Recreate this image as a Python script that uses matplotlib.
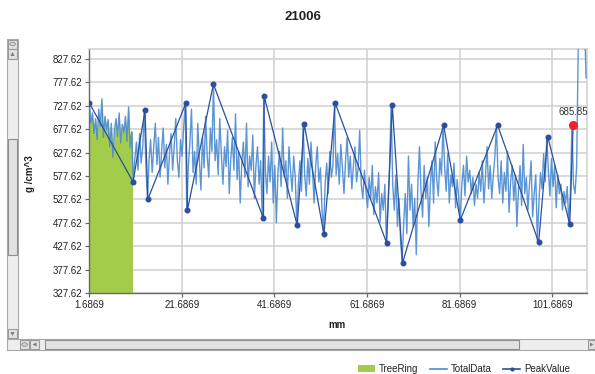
import numpy as np
import matplotlib
matplotlib.use("Agg")
import matplotlib.pyplot as plt
from matplotlib.patches import Rectangle, Circle, Polygon
from matplotlib.lines import Line2D
from matplotlib.patches import Patch

plt.rcParams['font.family'] = ['Liberation Sans', 'DejaVu Sans']

# ---------------- data ----------------
title = "21006"
x_label = "mm"
y_label = "g /cm^3"
x_ticks = [1.6869, 21.6869, 41.6869, 61.6869, 81.6869, 101.6869]
y_ticks = [327.62, 377.62, 427.62, 477.62, 527.62, 577.62, 627.62, 677.62, 727.62, 777.62, 827.62]
x_limits = (1.6869, 109.2)
y_limits = (327.62, 847.62)

total_start = 1.6869
total_step = 0.3396
total_values = [
    733, 690, 712, 668, 700, 655, 720, 684, 742, 660, 705, 676, 698, 640, 690, 618, 676, 700, 662, 712,
    648, 688, 670, 705, 652, 725, 638, 672,
    565, 615, 650, 590, 668, 605, 640, 718, 598, 528, 612, 655, 585, 640, 690, 602, 660, 575, 630, 680,
    595, 645, 560, 625, 668, 590, 640, 700, 610, 575, 655, 620, 680, 733,
    505, 600, 650, 720, 585, 630, 560, 690, 612, 548, 660, 595, 705, 620, 575, 680, 630, 773, 610, 655,
    580, 700, 625, 560, 640, 598, 675, 540, 615, 660, 590, 710, 570, 630, 520, 605, 650, 575, 690, 555,
    620, 590, 665, 530, 600, 640, 560, 610, 490, 745,
    590, 540, 620, 565, 650, 520, 600, 478, 585, 630, 555, 680, 575, 610, 530, 640, 590, 545, 620, 575,
    475, 560, 610, 545, 690, 580, 535, 615, 560, 650, 590, 520, 600, 640, 565, 595, 510, 455, 560, 605,
    540, 630, 575, 600, 733,
    580, 625, 560, 645, 595, 540, 610, 660, 575, 620, 550, 600, 640, 565, 595, 675, 560, 530, 590, 545,
    510, 575, 530, 600, 495, 555, 520, 585, 480, 540, 505, 560, 438, 520, 600, 729,
    560, 505, 580, 470, 530, 440, 395, 480, 540, 455, 620, 505, 560, 470, 530, 410, 560, 640, 545, 490,
    600, 530, 575, 470, 560, 610, 520, 650, 570, 535, 615, 580, 685,
    600, 545, 625, 520, 580, 555, 605, 510, 570, 530, 485, 560, 600, 535, 620, 565, 590, 540, 575, 515,
    560, 530, 585, 545, 610, 520, 575, 640, 550, 600, 530, 580, 620, 685,
    575, 540, 610, 520, 585, 545, 630, 500, 565, 600, 525, 580, 470, 550, 600, 515, 645, 540, 575, 505,
    560, 610, 490, 540, 580, 440, 520, 585, 550, 625, 565, 662, 590, 535, 615, 555, 600, 510, 580, 540,
    560, 505, 545, 520, 555, 478, 540, 686,
    560, 540, 600, 850, 905, 930, 880, 910, 787,
]

tree_ring_end = 11.15

peak_x = [1.69, 11.14, 13.73, 14.32, 22.53, 22.88, 28.5, 39.31, 39.46, 46.6, 48.11, 52.37, 54.81,
          65.9, 67.13, 69.36, 78.22, 81.83, 89.9, 98.76, 100.71, 105.47, 106.2]
peak_y = [733, 565, 717.6, 527.6, 733, 505, 773.6, 487.2, 747.4, 472.3, 689.3, 453.1, 733,
          435.3, 729, 392.7, 685.7, 483.6, 685.7, 436.1, 661.7, 475, 685.85]
highlight_label = "685.85"

legend_labels = ["TreeRing", "TotalData", "PeakValue"]

# ---------------- styles ----------------
green = "#a3cc4a"
total_color = "#4a8ad0"
peak_color = "#2b4f9e"
grid_color = "#cfcfcf"
axis_color = "#6a6a6a"
text_color = "#222222"

W, H = 595, 374
fig = plt.figure(figsize=(W / 100, H / 100), dpi=100)
fig.patch.set_facecolor("white")

def fx(px):
    return px / W

def fy(py):
    return 1 - py / H

ax_left, ax_right, ax_top, ax_bottom = 89.3, 587.0, 49.3, 293.3
ax = fig.add_axes([fx(ax_left), fy(ax_bottom), (ax_right - ax_left) / W, (ax_bottom - ax_top) / H])

tx = total_start + total_step * np.arange(len(total_values))
ty = np.array(total_values, dtype=float)

mask = tx <= tree_ring_end
ax.fill_between(tx[mask], y_limits[0] - 50, ty[mask], color=green, lw=0, zorder=2)
ax.fill_between([tx[mask][-1], tree_ring_end], y_limits[0] - 50, [ty[mask][-1], ty[mask][-1]],
                color=green, lw=0, zorder=2)
ax.plot(tx, ty, color=total_color, lw=1.0, alpha=0.9, zorder=3)
ax.plot(peak_x, peak_y, color=peak_color, lw=0.9, marker="o", ms=3.3, mec=peak_color, mfc=peak_color, zorder=4)
ax.plot([peak_x[-1]], [peak_y[-1]], "o", color="#ee2222", ms=5.5, zorder=5)
ax.annotate(highlight_label, (peak_x[-1], peak_y[-1]), xytext=(0, 6), textcoords="offset points",
            ha="center", va="bottom", fontsize=7, color="#333333", zorder=6)

ax.set_xlim(*x_limits)
ax.set_ylim(*y_limits)
ax.set_xticks(x_ticks)
ax.set_xticklabels([f"{v:.4f}" for v in x_ticks])
ax.set_yticks(y_ticks)
ax.set_yticklabels([f"{v:.2f}" for v in y_ticks])
ax.tick_params(axis="both", direction="out", length=3, width=0.9, color=axis_color,
               labelsize=7, labelcolor=text_color, pad=2)
ax.grid(True, color=grid_color, lw=1.1, zorder=0)
ax.set_axisbelow(True)
for s in ["left", "bottom"]:
    ax.spines[s].set_color(axis_color)
    ax.spines[s].set_linewidth(1.0)
for s in ["top", "right"]:
    ax.spines[s].set_color(grid_color)
    ax.spines[s].set_linewidth(1.1)

ax.set_xlabel(x_label, fontsize=7, fontweight="bold", color=text_color)
ax.set_ylabel(y_label, fontsize=7, fontweight="bold", color=text_color)
ax.xaxis.set_label_coords((337 - ax_left) / (ax_right - ax_left), -(320 - ax_bottom) / (ax_bottom - ax_top))
ax.yaxis.set_label_coords(-(ax_left - 35) / (ax_right - ax_left), 0.49)

fig.text(fx(303), fy(17), title, ha="center", va="center", fontsize=9.5, fontweight="bold", color=text_color)

# ---------------- scroll bars (UI) ----------------
def rect(x0, y0, x1, y1, fc, ec, lw=0.8, z=1):
    fig.patches.append(Rectangle((fx(x0), fy(y1)), (x1 - x0) / W, (y1 - y0) / H,
                                 transform=fig.transFigure, fc=fc, ec=ec, lw=lw, zorder=z))

# vertical scrollbar
rect(7, 39, 18, 338, "#eeeeee", "#a8a8a8")
rect(8, 139, 17, 255, "#e2e2e2", "#8e8e8e")
rect(8, 40, 17, 48.5, "#e2e2e2", "#9a9a9a")
rect(8, 49, 17, 58.5, "#e2e2e2", "#9a9a9a")
rect(8, 329, 17, 337.5, "#e2e2e2", "#9a9a9a")
# horizontal scrollbar
rect(7, 339, 595, 350, "#eeeeee", "#a8a8a8")
rect(20, 340, 29, 349, "#e2e2e2", "#9a9a9a")
rect(30, 340, 39, 349, "#e2e2e2", "#9a9a9a")
rect(45, 340, 519, 349, "#e2e2e2", "#8e8e8e")
rect(588, 340, 595, 349, "#e2e2e2", "#9a9a9a")

def tri(pts):
    fig.patches.append(Polygon([(fx(a), fy(b)) for a, b in pts], closed=True,
                               transform=fig.transFigure, fc="#7a7a7a", ec="none", zorder=2))

tri([(10.5, 56), (14.5, 56), (12.5, 52)])
tri([(10.5, 332), (14.5, 332), (12.5, 336)])
tri([(36.5, 342.5), (36.5, 346.5), (32.5, 344.5)])
tri([(590, 342.5), (590, 346.5), (593.5, 344.5)])
for cx, cy in [(12.5, 44), (24.5, 344.5)]:
    fig.patches.append(Circle((fx(cx), fy(cy)), 2.8 / W, transform=fig.transFigure,
                              fc="#d6d6d6", ec="#8a8a8a", lw=0.6, zorder=2))

# ---------------- legend ----------------
handles = [
    Patch(facecolor=green, edgecolor="none"),
    Line2D([], [], color=total_color, lw=1.2),
    Line2D([], [], color=peak_color, lw=1.2, marker="o", ms=2),
]
fig.legend(handles, legend_labels, loc="center", bbox_to_anchor=(fx(464), fy(369)), ncol=3,
           frameon=False, fontsize=7, handlelength=1.75, handleheight=0.6, handletextpad=0.4,
           columnspacing=1.2, labelcolor=text_color)

fig.savefig("out.png", dpi=100)
